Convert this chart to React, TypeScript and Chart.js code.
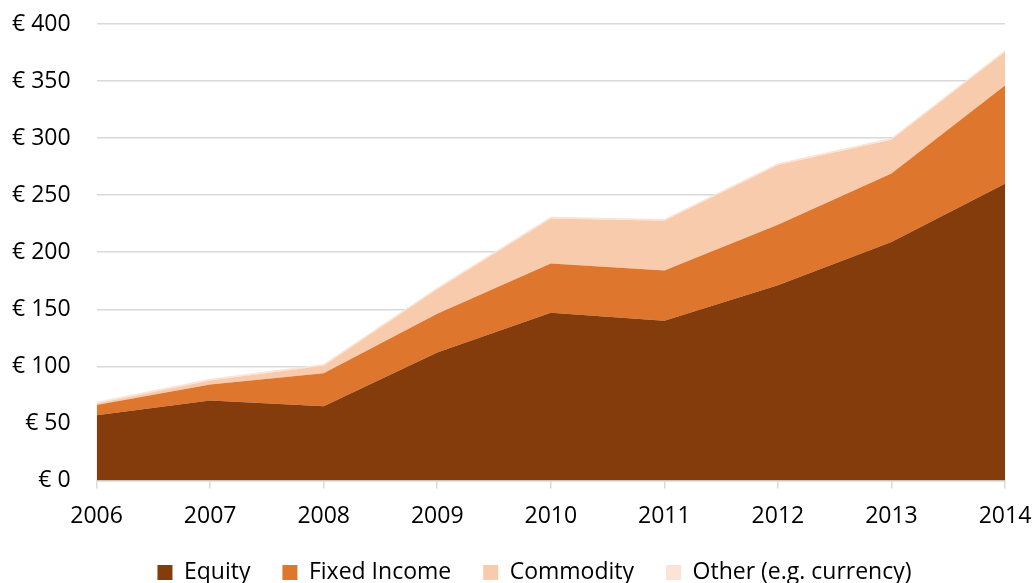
import React, { useEffect, useRef } from "react";
import { Chart, registerables } from "chart.js";

Chart.register(...registerables);

const years = ["2006", "2007", "2008", "2009", "2010", "2011", "2012", "2013", "2014"];
const equity = [57, 70, 65, 112, 147, 140, 171, 209, 260];
const fixedIncome = [9, 14, 29, 34, 43, 44, 53, 60, 86];
const commodity = [1.5, 3.5, 6.5, 21.5, 39.5, 43.5, 52.5, 29.5, 29.5];
const other = [1.5, 1.5, 1.5, 1.5, 1.5, 1.5, 1.5, 1.5, 1.5];

const FONT = "'Open Sans', 'Liberation Sans', sans-serif";
const FS = 23;

const shiftLegend = {
  id: "shiftLegend",
  afterLayout(chart: any) {
    if (chart.legend) {
      chart.legend.left += 39;
      chart.legend.right += 39;
    }
  },
};

export default function App() {
  const ref = useRef<HTMLCanvasElement | null>(null);

  useEffect(() => {
    document.body.style.margin = "0";
    const ctx = ref.current!.getContext("2d")!;
    const mk = (label: string, data: number[], color: string, fill: string | boolean) => ({
      label,
      data,
      backgroundColor: color,
      borderColor: color,
      borderWidth: 0,
      pointRadius: 0,
      fill,
      tension: 0,
    });
    const chart = new Chart(ctx, {
      type: "line",
      data: {
        labels: years,
        datasets: [
          mk("Equity", equity, "#843C0C", "origin"),
          mk("Fixed Income", fixedIncome, "#DF762E", "-1"),
          mk("Commodity", commodity, "#F7CBAC", "-1"),
          mk("Other (e.g. currency)", other, "#FBE4D5", "-1"),
        ],
      },
      plugins: [shiftLegend],
      options: {
        animation: false,
        responsive: false,
        maintainAspectRatio: false,
        layout: { padding: { top: 24, right: 29, left: -14, bottom: -11 } },
        scales: {
          x: {
            offset: false,
            afterFit: (scale: any) => {
              scale.height -= 15;
              scale.paddingLeft = 0;
              scale.paddingRight = 0;
            },
            grid: {
              display: true,
              drawOnChartArea: false,
              drawTicks: true,
              tickLength: 8,
              color: "#D9D9D9",
              lineWidth: 1.5,
            },
            border: { display: true, color: "#D9D9D9", width: 1.5 },
            ticks: {
              color: "#000",
              font: { family: FONT, size: FS },
              padding: 14,
              maxRotation: 0,
            },
          },
          y: {
            stacked: true,
            min: 0,
            max: 400,
            afterFit: (scale: any) => {
              scale.paddingTop = 0;
              scale.paddingBottom = 0;
            },
            grid: { color: "#D9D9D9", drawTicks: false, lineWidth: 1.5 },
            border: { display: false },
            ticks: {
              stepSize: 50,
              color: "#000",
              padding: 26,
              font: { family: FONT, size: FS },
              callback: (v: any) => "€ " + v,
            },
          },
        },
        plugins: {
          legend: {
            position: "bottom",
            labels: {
              color: "#000",
              font: { family: FONT, size: FS },
              boxWidth: 15,
              boxHeight: 15,
              padding: 32,
            },
          },
          tooltip: { enabled: false },
        },
      },
    });
    return () => chart.destroy();
  }, []);

  return (
    <div style={{ position: "absolute", left: 0, top: 0, width: 1034, height: 583 }}>
      <canvas ref={ref} width={1034} height={583} />
    </div>
  );
}
